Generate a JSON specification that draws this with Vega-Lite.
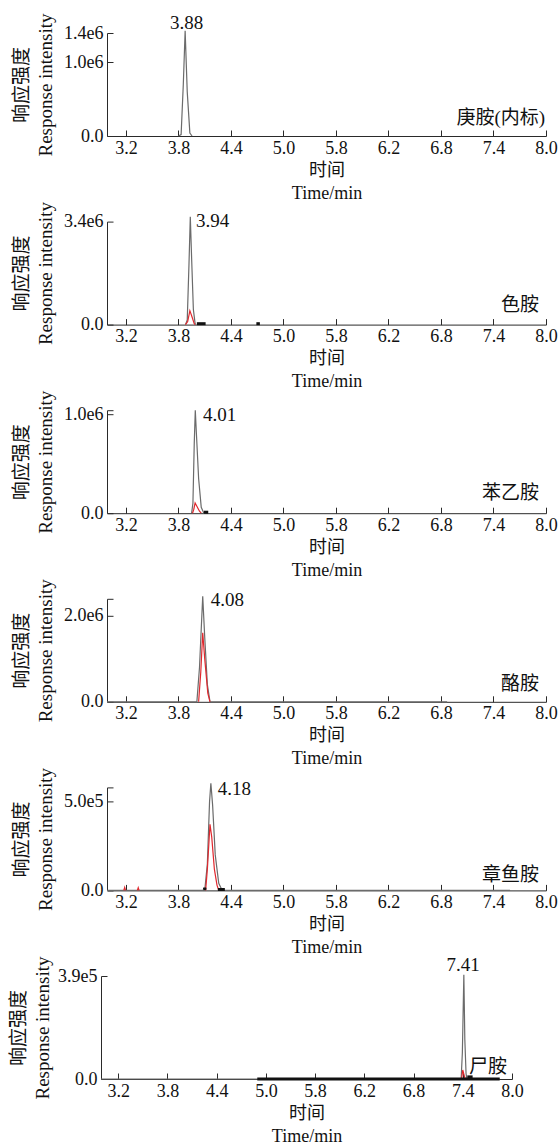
{
"$schema":"https://vega.github.io/schema/vega-lite/v6.json",
"padding":{"left":9,"top":12,"right":0,"bottom":0},
"background":"white",
"config":{
 "view":{"stroke":null},
 "font":"Liberation Serif, Noto Sans CJK SC",
 "axis":{"grid":false,"domainColor":"#2a2a2a","domainWidth":1,"tickColor":"#2a2a2a","tickSize":-6,"labelFont":"Liberation Serif, Noto Sans CJK SC","labelFontSize":18,"labelColor":"#111","titleFont":"Liberation Serif, Noto Sans CJK SC","titleFontWeight":"normal","titleColor":"#111","labelOverlap":false},
 "axisX":{"titleFontSize":18,"titleLineHeight":23,"titlePadding":4,"labelFlush":false,"labelPadding":9},
 "axisY":{"titleFontSize":19,"titleLineHeight":24,"titlePadding":8,"labelPadding":10},
 "text":{"font":"Liberation Serif, Noto Sans CJK SC","fontSize":19,"color":"#111"}
},
"datasets":{
"trace":[
{"p":1,"c":"gray","s":"g","t":3.80,"v":0},{"p":1,"c":"gray","s":"g","t":3.83,"v":20000},{"p":1,"c":"gray","s":"g","t":3.855,"v":700000},{"p":1,"c":"gray","s":"g","t":3.876,"v":1430000},{"p":1,"c":"gray","s":"g","t":3.90,"v":600000},{"p":1,"c":"gray","s":"g","t":3.93,"v":40000},{"p":1,"c":"gray","s":"g","t":3.955,"v":0},
{"p":2,"c":"gray","s":"g","t":3.88,"v":0},{"p":2,"c":"gray","s":"g","t":3.90,"v":150000},{"p":2,"c":"gray","s":"g","t":3.92,"v":2000000},{"p":2,"c":"gray","s":"g","t":3.935,"v":3560000},{"p":2,"c":"gray","s":"g","t":3.95,"v":2200000},{"p":2,"c":"gray","s":"g","t":3.97,"v":500000},{"p":2,"c":"gray","s":"g","t":3.99,"v":30000},{"p":2,"c":"gray","s":"g","t":4.0,"v":0},
{"p":2,"c":"red","s":"r","t":3.88,"v":0},{"p":2,"c":"red","s":"r","t":3.905,"v":100000},{"p":2,"c":"red","s":"r","t":3.93,"v":460000},{"p":2,"c":"red","s":"r","t":3.955,"v":250000},{"p":2,"c":"red","s":"r","t":3.98,"v":30000},{"p":2,"c":"red","s":"r","t":3.99,"v":0},
{"p":2,"c":"black","s":"k1","t":4.01,"v":30000},{"p":2,"c":"black","s":"k1","t":4.11,"v":30000},{"p":2,"c":"black","s":"k2","t":4.69,"v":30000},{"p":2,"c":"black","s":"k2","t":4.73,"v":30000},
{"p":3,"c":"gray","s":"g","t":3.95,"v":0},{"p":3,"c":"gray","s":"g","t":3.965,"v":100000},{"p":3,"c":"gray","s":"g","t":3.98,"v":700000},{"p":3,"c":"gray","s":"g","t":3.992,"v":1040000},{"p":3,"c":"gray","s":"g","t":4.005,"v":800000},{"p":3,"c":"gray","s":"g","t":4.03,"v":350000},{"p":3,"c":"gray","s":"g","t":4.06,"v":60000},{"p":3,"c":"gray","s":"g","t":4.09,"v":0},
{"p":3,"c":"red","s":"r","t":3.96,"v":0},{"p":3,"c":"red","s":"r","t":3.975,"v":40000},{"p":3,"c":"red","s":"r","t":3.99,"v":103000},{"p":3,"c":"red","s":"r","t":4.01,"v":70000},{"p":3,"c":"red","s":"r","t":4.04,"v":20000},{"p":3,"c":"red","s":"r","t":4.06,"v":0},
{"p":3,"c":"black","s":"k1","t":4.09,"v":10000},{"p":3,"c":"black","s":"k1","t":4.14,"v":10000},
{"p":4,"c":"gray","s":"g","t":2.983,"v":0},{"p":4,"c":"gray","s":"g","t":4.01,"v":0},{"p":4,"c":"gray","s":"g","t":4.04,"v":800000},{"p":4,"c":"gray","s":"g","t":4.077,"v":2460000},{"p":4,"c":"gray","s":"g","t":4.10,"v":1500000},{"p":4,"c":"gray","s":"g","t":4.13,"v":400000},{"p":4,"c":"gray","s":"g","t":4.16,"v":0},{"p":4,"c":"gray","s":"g","t":6.87,"v":0},
{"p":4,"c":"red","s":"r","t":4.03,"v":0},{"p":4,"c":"red","s":"r","t":4.055,"v":700000},{"p":4,"c":"red","s":"r","t":4.077,"v":1610000},{"p":4,"c":"red","s":"r","t":4.10,"v":1000000},{"p":4,"c":"red","s":"r","t":4.135,"v":200000},{"p":4,"c":"red","s":"r","t":4.16,"v":0},
{"p":5,"c":"gray","s":"g","t":2.983,"v":0},{"p":5,"c":"gray","s":"g","t":4.10,"v":0},{"p":5,"c":"gray","s":"g","t":4.13,"v":150000},{"p":5,"c":"gray","s":"g","t":4.155,"v":500000},{"p":5,"c":"gray","s":"g","t":4.17,"v":603000},{"p":5,"c":"gray","s":"g","t":4.19,"v":480000},{"p":5,"c":"gray","s":"g","t":4.22,"v":200000},{"p":5,"c":"gray","s":"g","t":4.26,"v":40000},{"p":5,"c":"gray","s":"g","t":4.30,"v":0},{"p":5,"c":"gray","s":"g","t":7.59,"v":0},
{"p":5,"c":"red","s":"r1","t":3.175,"v":0},{"p":5,"c":"red","s":"r1","t":3.185,"v":17000},{"p":5,"c":"red","s":"r1","t":3.195,"v":0},
{"p":5,"c":"red","s":"r2","t":3.33,"v":0},{"p":5,"c":"red","s":"r2","t":3.34,"v":15000},{"p":5,"c":"red","s":"r2","t":3.35,"v":0},
{"p":5,"c":"red","s":"r3","t":4.11,"v":0},{"p":5,"c":"red","s":"r3","t":4.13,"v":120000},{"p":5,"c":"red","s":"r3","t":4.16,"v":372000},{"p":5,"c":"red","s":"r3","t":4.18,"v":300000},{"p":5,"c":"red","s":"r3","t":4.21,"v":120000},{"p":5,"c":"red","s":"r3","t":4.24,"v":30000},{"p":5,"c":"red","s":"r3","t":4.26,"v":0},
{"p":5,"c":"black","s":"k1","t":4.25,"v":5000},{"p":5,"c":"black","s":"k1","t":4.33,"v":5000},{"p":5,"c":"black","s":"k2","t":4.095,"v":3000},{"p":5,"c":"black","s":"k2","t":4.10,"v":15000},{"p":5,"c":"black","s":"k2","t":4.105,"v":3000},
{"p":6,"c":"gray","s":"g","t":2.99,"v":0},{"p":6,"c":"gray","s":"g","t":7.38,"v":0},{"p":6,"c":"gray","s":"g","t":7.395,"v":100000},{"p":6,"c":"gray","s":"g","t":7.413,"v":395000},{"p":6,"c":"gray","s":"g","t":7.425,"v":150000},{"p":6,"c":"gray","s":"g","t":7.44,"v":20000},{"p":6,"c":"gray","s":"g","t":7.45,"v":0},{"p":6,"c":"gray","s":"g","t":7.85,"v":0},
{"p":6,"c":"red","s":"r","t":7.385,"v":0},{"p":6,"c":"red","s":"r","t":7.40,"v":34000},{"p":6,"c":"red","s":"r","t":7.42,"v":10000},{"p":6,"c":"red","s":"r","t":7.43,"v":0},
{"p":6,"c":"black","s":"k1","t":4.895,"v":0},{"p":6,"c":"black","s":"k1","t":7.85,"v":0},{"p":6,"c":"black","s":"k2","t":7.455,"v":8000},{"p":6,"c":"black","s":"k2","t":7.52,"v":8000}
],
"labels":[
{"p":1,"k":"peak","t":3.892,"v":1454000,"label":"3.88"},{"p":1,"k":"name","t":7.99,"v":160000,"label":"庚胺(内标)"},
{"p":2,"k":"peak","t":4.189,"v":3235000,"label":"3.94"},{"p":2,"k":"name","t":7.92,"v":460000,"label":"色胺"},
{"p":3,"k":"peak","t":4.269,"v":930000,"label":"4.01"},{"p":3,"k":"name","t":7.92,"v":140000,"label":"苯乙胺"},
{"p":4,"k":"peak","t":4.360,"v":2237000,"label":"4.08"},{"p":4,"k":"name","t":7.92,"v":280000,"label":"酪胺"},
{"p":5,"k":"peak","t":4.440,"v":535000,"label":"4.18"},{"p":5,"k":"name","t":7.92,"v":51000,"label":"章鱼胺"},
{"p":6,"k":"peak","t":7.405,"v":409000,"label":"7.41"},{"p":6,"k":"name","t":7.94,"v":23000,"label":"尸胺"}
]
},
"bounds":"flush",
"spacing":188.6,
"vconcat":[
{"hconcat":[{"width":1,"height":103,"data":{"values":[]},"mark":"point"},
{"width":439,"height":103,
 "encoding":{
  "x":{"field":"t","type":"quantitative","scale":{"domain":[2.983,8],"nice":false,"zero":false},"axis":{"values":[3.2,3.8,4.4,5.0,5.6,6.2,6.8,7.4,8.0],"labelExpr":"datum.value == 5.6 ? '5.8' : format(datum.value, '.1f')","title":["时间","Time/min"]}},
  "y":{"field":"v","type":"quantitative","scale":{"domain":[0,1400000],"nice":false},"axis":{"values":[0,1000000,1400000],"labelExpr":"datum.value == 0 ? '0.0' : datum.value == 1000000 ? '1.0e6' : '1.4e6'","title":["响应强度","Response intensity"]}}
 },
 "layer":[
  {"data":{"name":"trace"},"transform":[{"filter":"datum.p == 1 && datum.c == 'gray'"}],"mark":{"type":"line","color":"#6b6b6b","strokeWidth":1.2},"encoding":{"detail":{"field":"s"}}},
  {"data":{"name":"labels"},"transform":[{"filter":"datum.p == 1 && datum.k == 'peak'"}],"mark":{"type":"text","align":"center","baseline":"alphabetic"},"encoding":{"text":{"field":"label"}}},
  {"data":{"name":"labels"},"transform":[{"filter":"datum.p == 1 && datum.k == 'name'"}],"mark":{"type":"text","align":"right","baseline":"alphabetic"},"encoding":{"text":{"field":"label"}}}
 ]}],"spacing":5,"bounds":"flush"},
{"hconcat":[{"width":1,"height":103,"data":{"values":[]},"mark":"point"},
{"width":439,"height":103,
 "encoding":{
  "x":{"field":"t","type":"quantitative","scale":{"domain":[2.983,8],"nice":false,"zero":false},"axis":{"values":[3.2,3.8,4.4,5.0,5.6,6.2,6.8,7.4,8.0],"labelExpr":"datum.value == 5.6 ? '5.8' : format(datum.value, '.1f')","title":["时间","Time/min"]}},
  "y":{"field":"v","type":"quantitative","scale":{"domain":[0,3400000],"nice":false},"axis":{"values":[0,3400000],"labelExpr":"datum.value == 0 ? '0.0' : '3.4e6'","title":["响应强度","Response intensity"]}}
 },
 "layer":[
  {"data":{"name":"trace"},"transform":[{"filter":"datum.p == 2 && datum.c == 'gray'"}],"mark":{"type":"line","color":"#6b6b6b","strokeWidth":1.2},"encoding":{"detail":{"field":"s"}}},
  {"data":{"name":"trace"},"transform":[{"filter":"datum.p == 2 && datum.c == 'red'"}],"mark":{"type":"line","color":"#e0282e","strokeWidth":1.2},"encoding":{"detail":{"field":"s"}}},
  {"data":{"name":"trace"},"transform":[{"filter":"datum.p == 2 && datum.c == 'black'"}],"mark":{"type":"line","color":"#111111","strokeWidth":3},"encoding":{"detail":{"field":"s"}}},
  {"data":{"name":"labels"},"transform":[{"filter":"datum.p == 2 && datum.k == 'peak'"}],"mark":{"type":"text","align":"center","baseline":"alphabetic"},"encoding":{"text":{"field":"label"}}},
  {"data":{"name":"labels"},"transform":[{"filter":"datum.p == 2 && datum.k == 'name'"}],"mark":{"type":"text","align":"right","baseline":"alphabetic"},"encoding":{"text":{"field":"label"}}}
 ]}],"spacing":5,"bounds":"flush"},
{"hconcat":[{"width":1,"height":103,"data":{"values":[]},"mark":"point"},
{"width":439,"height":103,
 "encoding":{
  "x":{"field":"t","type":"quantitative","scale":{"domain":[2.983,8],"nice":false,"zero":false},"axis":{"values":[3.2,3.8,4.4,5.0,5.6,6.2,6.8,7.4,8.0],"labelExpr":"datum.value == 5.6 ? '5.8' : format(datum.value, '.1f')","title":["时间","Time/min"]}},
  "y":{"field":"v","type":"quantitative","scale":{"domain":[0,1040000],"nice":false},"axis":{"values":[0,1000000,1040000],"labelExpr":"datum.value == 0 ? '0.0' : datum.value == 1000000 ? '1.0e6' : ''","title":["响应强度","Response intensity"]}}
 },
 "layer":[
  {"data":{"name":"trace"},"transform":[{"filter":"datum.p == 3 && datum.c == 'gray'"}],"mark":{"type":"line","color":"#6b6b6b","strokeWidth":1.2},"encoding":{"detail":{"field":"s"}}},
  {"data":{"name":"trace"},"transform":[{"filter":"datum.p == 3 && datum.c == 'red'"}],"mark":{"type":"line","color":"#e0282e","strokeWidth":1.2},"encoding":{"detail":{"field":"s"}}},
  {"data":{"name":"trace"},"transform":[{"filter":"datum.p == 3 && datum.c == 'black'"}],"mark":{"type":"line","color":"#111111","strokeWidth":3},"encoding":{"detail":{"field":"s"}}},
  {"data":{"name":"labels"},"transform":[{"filter":"datum.p == 3 && datum.k == 'peak'"}],"mark":{"type":"text","align":"center","baseline":"alphabetic"},"encoding":{"text":{"field":"label"}}},
  {"data":{"name":"labels"},"transform":[{"filter":"datum.p == 3 && datum.k == 'name'"}],"mark":{"type":"text","align":"right","baseline":"alphabetic"},"encoding":{"text":{"field":"label"}}}
 ]}],"spacing":5,"bounds":"flush"},
{"hconcat":[{"width":1,"height":103,"data":{"values":[]},"mark":"point"},
{"width":439,"height":103,
 "encoding":{
  "x":{"field":"t","type":"quantitative","scale":{"domain":[2.983,8],"nice":false,"zero":false},"axis":{"values":[3.2,3.8,4.4,5.0,5.6,6.2,6.8,7.4,8.0],"labelExpr":"datum.value == 5.6 ? '5.8' : format(datum.value, '.1f')","title":["时间","Time/min"]}},
  "y":{"field":"v","type":"quantitative","scale":{"domain":[0,2400000],"nice":false},"axis":{"values":[0,2000000,2400000],"labelExpr":"datum.value == 0 ? '0.0' : datum.value == 2000000 ? '2.0e6' : ''","title":["响应强度","Response intensity"]}}
 },
 "layer":[
  {"data":{"name":"trace"},"transform":[{"filter":"datum.p == 4 && datum.c == 'gray'"}],"mark":{"type":"line","color":"#6b6b6b","strokeWidth":1.2},"encoding":{"detail":{"field":"s"}}},
  {"data":{"name":"trace"},"transform":[{"filter":"datum.p == 4 && datum.c == 'red'"}],"mark":{"type":"line","color":"#e0282e","strokeWidth":1.2},"encoding":{"detail":{"field":"s"}}},
  {"data":{"name":"labels"},"transform":[{"filter":"datum.p == 4 && datum.k == 'peak'"}],"mark":{"type":"text","align":"center","baseline":"alphabetic"},"encoding":{"text":{"field":"label"}}},
  {"data":{"name":"labels"},"transform":[{"filter":"datum.p == 4 && datum.k == 'name'"}],"mark":{"type":"text","align":"right","baseline":"alphabetic"},"encoding":{"text":{"field":"label"}}}
 ]}],"spacing":5,"bounds":"flush"},
{"hconcat":[{"width":1,"height":103,"data":{"values":[]},"mark":"point"},
{"width":439,"height":103,
 "encoding":{
  "x":{"field":"t","type":"quantitative","scale":{"domain":[2.983,8],"nice":false,"zero":false},"axis":{"values":[3.2,3.8,4.4,5.0,5.6,6.2,6.8,7.4,8.0],"labelExpr":"datum.value == 5.6 ? '5.8' : format(datum.value, '.1f')","title":["时间","Time/min"]}},
  "y":{"field":"v","type":"quantitative","scale":{"domain":[0,580000],"nice":false},"axis":{"values":[0,500000,580000],"labelExpr":"datum.value == 0 ? '0.0' : datum.value == 500000 ? '5.0e5' : ''","title":["响应强度","Response intensity"]}}
 },
 "layer":[
  {"data":{"name":"trace"},"transform":[{"filter":"datum.p == 5 && datum.c == 'gray'"}],"mark":{"type":"line","color":"#6b6b6b","strokeWidth":1.2},"encoding":{"detail":{"field":"s"}}},
  {"data":{"name":"trace"},"transform":[{"filter":"datum.p == 5 && datum.c == 'red'"}],"mark":{"type":"line","color":"#e0282e","strokeWidth":1.2},"encoding":{"detail":{"field":"s"}}},
  {"data":{"name":"trace"},"transform":[{"filter":"datum.p == 5 && datum.c == 'black'"}],"mark":{"type":"line","color":"#111111","strokeWidth":3},"encoding":{"detail":{"field":"s"}}},
  {"data":{"name":"labels"},"transform":[{"filter":"datum.p == 5 && datum.k == 'peak'"}],"mark":{"type":"text","align":"center","baseline":"alphabetic"},"encoding":{"text":{"field":"label"}}},
  {"data":{"name":"labels"},"transform":[{"filter":"datum.p == 5 && datum.k == 'name'"}],"mark":{"type":"text","align":"right","baseline":"alphabetic"},"encoding":{"text":{"field":"label"}}}
 ]}],"spacing":5,"bounds":"flush"},
{"width":411,"height":103,
 "encoding":{
  "x":{"field":"t","type":"quantitative","scale":{"domain":[2.99,8],"nice":false,"zero":false},"axis":{"values":[3.2,3.8,4.4,5.0,5.6,6.2,6.8,7.4,8.0],"labelExpr":"datum.value == 5.6 ? '5.8' : format(datum.value, '.1f')","title":["时间","Time/min"]}},
  "y":{"field":"v","type":"quantitative","scale":{"domain":[0,390000],"nice":false},"axis":{"values":[0,390000],"labelExpr":"datum.value == 0 ? '0.0' : '3.9e5'","title":["响应强度","Response intensity"],"titlePadding":5}}
 },
 "layer":[
  {"data":{"name":"trace"},"transform":[{"filter":"datum.p == 6 && datum.c == 'gray'"}],"mark":{"type":"line","color":"#6b6b6b","strokeWidth":1.2},"encoding":{"detail":{"field":"s"}}},
  {"data":{"name":"trace"},"transform":[{"filter":"datum.p == 6 && datum.c == 'red'"}],"mark":{"type":"line","color":"#e0282e","strokeWidth":1.2},"encoding":{"detail":{"field":"s"}}},
  {"data":{"name":"trace"},"transform":[{"filter":"datum.p == 6 && datum.c == 'black'"}],"mark":{"type":"line","color":"#111111","strokeWidth":3},"encoding":{"detail":{"field":"s"}}},
  {"data":{"name":"labels"},"transform":[{"filter":"datum.p == 6 && datum.k == 'peak'"}],"mark":{"type":"text","align":"center","baseline":"alphabetic"},"encoding":{"text":{"field":"label"}}},
  {"data":{"name":"labels"},"transform":[{"filter":"datum.p == 6 && datum.k == 'name'"}],"mark":{"type":"text","align":"right","baseline":"alphabetic"},"encoding":{"text":{"field":"label"}}}
 ]}
]
}
